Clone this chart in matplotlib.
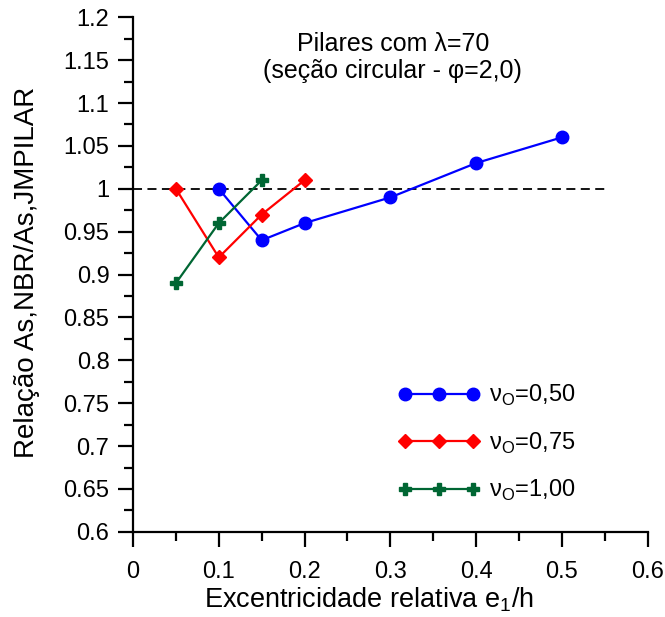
import matplotlib
matplotlib.use("Agg")
import matplotlib.pyplot as plt
from matplotlib.ticker import MultipleLocator

plt.rcParams['font.family'] = ['Liberation Sans', 'DejaVu Sans']
plt.rcParams['mathtext.fontset'] = 'custom'
plt.rcParams['mathtext.rm'] = 'Liberation Sans'

x_050 = [0.10, 0.15, 0.20, 0.30, 0.40, 0.50]
y_050 = [1.00, 0.94, 0.96, 0.99, 1.03, 1.06]
x_075 = [0.05, 0.10, 0.15, 0.20]
y_075 = [1.00, 0.92, 0.97, 1.01]
x_100 = [0.05, 0.10, 0.15]
y_100 = [0.89, 0.96, 1.01]
ref_x = [0.0, 0.55]
ref_y = [1.0, 1.0]

fig = plt.figure(figsize=(6.65, 6.17), dpi=100)
ax = fig.add_axes([0.2, 0.138, 0.774, 0.834])

ax.plot(ref_x, ref_y, color='black', ls=(0, (5, 3)), lw=1.3, zorder=1)
ax.plot(x_050, y_050, color='#0000ff', marker='o', ms=9, lw=1.6,
        label='ν$_\\mathrm{O}$=0,50')
ax.plot(x_075, y_075, color='#ff0000', marker='D', ms=7, lw=1.6,
        label='ν$_\\mathrm{O}$=0,75')
ax.plot(x_100, y_100, color='#006633', marker='P', ms=9, lw=1.6,
        label='ν$_\\mathrm{O}$=1,00')

ax.set_xlim(0, 0.6)
ax.set_ylim(0.6, 1.2)
ax.xaxis.set_major_locator(MultipleLocator(0.1))
ax.xaxis.set_minor_locator(MultipleLocator(0.05))
ax.yaxis.set_major_locator(MultipleLocator(0.05))
ax.yaxis.set_minor_locator(MultipleLocator(0.025))
ax.xaxis.set_major_formatter(plt.FuncFormatter(lambda v, p: f'{v:g}'))
ax.yaxis.set_major_formatter(plt.FuncFormatter(lambda v, p: f'{round(v, 3):g}'))

for s in ['top', 'right']:
    ax.spines[s].set_visible(False)
for s in ['left', 'bottom']:
    ax.spines[s].set_linewidth(1.6)
ax.tick_params(which='major', direction='out', length=11, width=1.6, labelsize=17)
ax.tick_params(which='minor', direction='out', length=6.5, width=1.6)
ax.tick_params(axis='x', which='major', pad=10)
ax.tick_params(axis='y', which='major', pad=6)

ax.set_xlabel('Excentricidade relativa e$_\\mathrm{1}$/h', fontsize=19.5)
ax.set_ylabel('Relação As,NBR/As,JMPILAR', fontsize=20)
ax.xaxis.set_label_coords(0.458, -0.104)
ax.yaxis.set_label_coords(-0.18, 0.505)

ax.text(0.505, 0.922, 'Pilares com λ=70\n(seção circular - φ=2,0)',
        transform=ax.transAxes, ha='center', va='center', fontsize=18,
        linespacing=1.2)

leg = ax.legend(loc='lower right', bbox_to_anchor=(0.9, 0.014), frameon=False,
                numpoints=3, handlelength=3.5, fontsize=17, labelspacing=0.95,
                handletextpad=0.35)

fig.savefig('out.png', dpi=100)
